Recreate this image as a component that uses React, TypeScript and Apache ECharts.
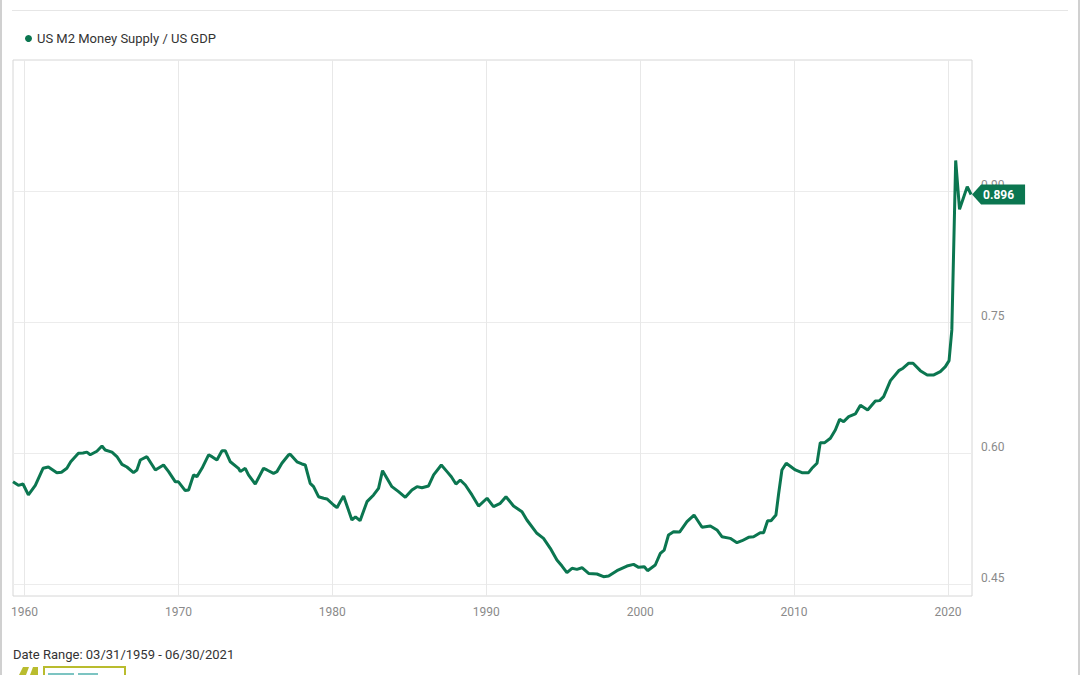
import React, { useEffect, useRef } from "react";
import * as echarts from "echarts";

const SERIES_NAME = "US M2 Money Supply / US GDP";
const DATE_RANGE = "Date Range: 03/31/1959 - 06/30/2021";
const X_TICKS = [1960, 1970, 1980, 1990, 2000, 2010, 2020];
const Y_TICKS = [0.45, 0.6, 0.75, 0.9];
const LAST_VALUE = 0.896;

// decimal years (quarter-end dates)
const years = [
  1959.25, 1959.6, 1959.9, 1960.25, 1960.7, 1961.2, 1961.55, 1962.1, 1962.4, 1962.75,
  1963.0, 1963.5, 1963.8, 1964.05, 1964.27, 1964.7, 1965.03, 1965.24, 1965.68, 1966.0,
  1966.33, 1966.65, 1967.08, 1967.3, 1967.52, 1967.95, 1968.5, 1969.03, 1969.36, 1969.8,
  1970.0, 1970.44, 1970.66, 1970.98, 1971.2, 1971.53, 1971.96, 1972.18, 1972.5, 1972.83,
  1973.04, 1973.37, 1973.9, 1974.02, 1974.34, 1974.55, 1974.99, 1975.53, 1975.75, 1976.18,
  1976.4, 1976.72, 1977.15, 1977.26, 1977.7, 1978.02, 1978.24, 1978.56, 1978.78, 1979.1,
  1979.43, 1979.65, 1980.08, 1980.3, 1980.51, 1980.73, 1981.27, 1981.5, 1981.8, 1982.25,
  1982.68, 1983.0, 1983.26, 1983.87, 1984.3, 1984.74, 1985.17, 1985.5, 1985.82, 1986.25,
  1986.58, 1987.08, 1987.45, 1987.73, 1988.03, 1988.31, 1988.64, 1989.07, 1989.5, 1990.05,
  1990.47, 1990.91, 1991.28, 1991.77, 1992.32, 1992.64, 1993.29, 1993.72, 1994.16, 1994.59,
  1994.92, 1995.24, 1995.57, 1995.89, 1996.22, 1996.65, 1997.19, 1997.62, 1997.95, 1998.49,
  1999.14, 1999.57, 1999.9, 2000.27, 2000.48, 2000.98, 2001.31, 2001.56, 2001.84, 2002.17,
  2002.56, 2003.04, 2003.5, 2004.02, 2004.56, 2004.99, 2005.31, 2005.85, 2006.29, 2006.62,
  2007.04, 2007.37, 2007.8, 2008.02, 2008.28, 2008.5, 2008.82, 2009.0, 2009.21, 2009.49,
  2010.08, 2010.51, 2010.94, 2011.16, 2011.49, 2011.7, 2011.99, 2012.36, 2012.68, 2012.96,
  2013.22, 2013.55, 2013.98, 2014.31, 2014.78, 2015.28, 2015.56, 2015.82, 2016.26, 2016.8,
  2017.08, 2017.45, 2017.73, 2018.2, 2018.65, 2019.08, 2019.5, 2019.83, 2020.07, 2020.25,
  2020.5, 2020.75, 2021.0, 2021.25, 2021.5,
];

const ratio = [
  0.567, 0.563, 0.5645, 0.552, 0.563, 0.5825, 0.584, 0.5775, 0.578, 0.5825,
  0.59, 0.5997, 0.6, 0.601, 0.598, 0.602, 0.608, 0.6035, 0.601, 0.596,
  0.587, 0.584, 0.5775, 0.5805, 0.592, 0.5958, 0.5806, 0.5863, 0.5787, 0.567,
  0.567, 0.557, 0.5577, 0.5749, 0.573, 0.5825, 0.5978, 0.5958, 0.592, 0.6027,
  0.6027, 0.59, 0.5825, 0.5787, 0.5825, 0.5749, 0.5645, 0.5825, 0.5806, 0.5768,
  0.5787, 0.5883, 0.5978, 0.5986, 0.59, 0.5875, 0.5863, 0.5653, 0.5615, 0.55,
  0.5482, 0.5474, 0.5405, 0.5374, 0.5443, 0.5508, 0.5233, 0.527, 0.5225, 0.5443,
  0.552, 0.5596, 0.5798, 0.5615, 0.5558, 0.5493, 0.5577, 0.5615, 0.5603, 0.5623,
  0.5749, 0.5863, 0.5787, 0.5729, 0.5645, 0.5691, 0.5634, 0.552, 0.5393, 0.5482,
  0.5386, 0.5424, 0.55, 0.5393, 0.5328, 0.5233, 0.5081, 0.5023, 0.4909, 0.4775,
  0.4706, 0.463, 0.468, 0.4668, 0.4687, 0.4622, 0.4615, 0.4584, 0.4592, 0.4653,
  0.4706, 0.4725, 0.4691, 0.4698, 0.4653, 0.4718, 0.4851, 0.4889, 0.5061, 0.5099,
  0.5095, 0.5214, 0.529, 0.515, 0.5164, 0.5119, 0.5042, 0.5023, 0.4973, 0.4996,
  0.5035, 0.5042, 0.5088, 0.5088, 0.5225, 0.5225, 0.529, 0.5539, 0.5806, 0.5883,
  0.5806, 0.5775, 0.5775, 0.5825, 0.5883, 0.6119, 0.6119, 0.6169, 0.6264, 0.6386,
  0.6359, 0.6416, 0.6447, 0.6547, 0.6493, 0.6596, 0.66, 0.6645, 0.6829, 0.6943,
  0.6971, 0.7028, 0.7028, 0.6943, 0.6894, 0.6894, 0.6932, 0.6989, 0.7058, 0.741,
  0.935, 0.879, 0.892, 0.905, 0.896,
];

const GREEN = "#0b7650";
const OLIVE = "#b9bc2e";
const FONT = "Roboto, 'Noto Sans', sans-serif";

export default function App() {
  const ref = useRef<HTMLDivElement>(null);

  useEffect(() => {
    if (!ref.current) return;
    const chart = echarts.init(ref.current, null, { renderer: "svg" });
    const data = years.map((y, i) => [y, ratio[i]]);
    const lastX = years[years.length - 1];

    chart.setOption({
      animation: false,
      backgroundColor: "#ffffff",
      textStyle: { fontFamily: FONT },
      legend: {
        data: [{ name: SERIES_NAME, icon: "circle" }],
        left: 20,
        top: 27,
        itemWidth: 7,
        itemHeight: 7,
        itemGap: 4,
        textStyle: { fontFamily: FONT, fontSize: 13, color: "#333333" },
      },
      grid: {
        left: 13,
        right: 108,
        top: 60,
        bottom: 79,
        show: true,
        borderColor: "#d6d6d6",
        borderWidth: 1,
        backgroundColor: "transparent",
      },
      xAxis: {
        type: "value",
        min: 1959.25,
        max: 2021.56,
        axisLine: { show: false },
        axisTick: { show: false, customValues: X_TICKS },
        axisLabel: {
          customValues: X_TICKS,
          color: "#8a8a8a",
          fontSize: 12,
          fontFamily: FONT,
          margin: 10,
          formatter: (v: number) => String(v),
        },
        splitLine: { show: true, lineStyle: { color: "#e8e8e8", width: 1 } },
      },
      yAxis: {
        type: "value",
        position: "right",
        min: 0.4363,
        max: 1.05,
        axisLine: { show: false },
        axisTick: { show: false, customValues: Y_TICKS },
        axisLabel: {
          customValues: Y_TICKS,
          color: "#8a8a8a",
          fontSize: 12,
          fontFamily: FONT,
          margin: 9,
          verticalAlign: "bottom",
          formatter: (v: number) => v.toFixed(2),
        },
        splitLine: { show: true, lineStyle: { color: "#ececec", width: 1 } },
      },
      series: [
        {
          name: SERIES_NAME,
          type: "line",
          data,
          showSymbol: false,
          symbol: "circle",
          itemStyle: { color: GREEN },
          lineStyle: { color: GREEN, width: 3 },
          markPoint: {
            symbol: "path://M0,10L9,0L53,0L53,20L9,20Z",
            symbolSize: [53, 20],
            symbolKeepAspect: false,
            symbolOffset: [27.5, 0],
            itemStyle: { color: GREEN },
            label: {
              show: true,
              position: "inside",
              color: "#ffffff",
              fontWeight: "bold",
              fontSize: 12,
              fontFamily: FONT,
              formatter: () => LAST_VALUE.toFixed(3),
            },
            data: [{ coord: [lastX, LAST_VALUE], value: LAST_VALUE }],
            z: 10,
          },
        },
      ],
      graphic: [
        {
          type: "line",
          shape: { x1: 12, y1: 10.5, x2: 1068, y2: 10.5 },
          style: { stroke: "#e6e6e6", lineWidth: 1 },
          silent: true,
        },
        {
          type: "line",
          shape: { x1: 1, y1: 0, x2: 1, y2: 675 },
          style: { stroke: "#d0d0d0", lineWidth: 2 },
          silent: true,
        },
        {
          type: "line",
          shape: { x1: 1079, y1: 0, x2: 1079, y2: 675 },
          style: { stroke: "#d0d0d0", lineWidth: 2 },
          silent: true,
        },
        {
          type: "text",
          left: 13,
          top: 648,
          style: {
            text: DATE_RANGE,
            fill: "#333333",
            font: "13px Roboto, 'Noto Sans', sans-serif",
          },
        },
        {
          type: "polygon",
          shape: { points: [[19, 675], [23, 667], [29, 667], [26, 675]] },
          style: { fill: OLIVE },
          silent: true,
        },
        {
          type: "polygon",
          shape: { points: [[30, 675], [33, 667], [38, 667], [38, 675]] },
          style: { fill: OLIVE },
          silent: true,
        },
        {
          type: "rect",
          shape: { x: 44, y: 667, width: 81, height: 14 },
          style: { fill: "none", stroke: OLIVE, lineWidth: 2 },
          silent: true,
        },
        {
          type: "rect",
          shape: { x: 48, y: 673, width: 26, height: 2 },
          style: { fill: "#7cc4c2" },
          silent: true,
        },
        {
          type: "rect",
          shape: { x: 78, y: 673, width: 20, height: 2 },
          style: { fill: "#7cc4c2" },
          silent: true,
        },
      ],
    });

    return () => chart.dispose();
  }, []);

  return (
    <div
      ref={ref}
      style={{ position: "fixed", left: 0, top: 0, width: 1080, height: 675 }}
    />
  );
}
